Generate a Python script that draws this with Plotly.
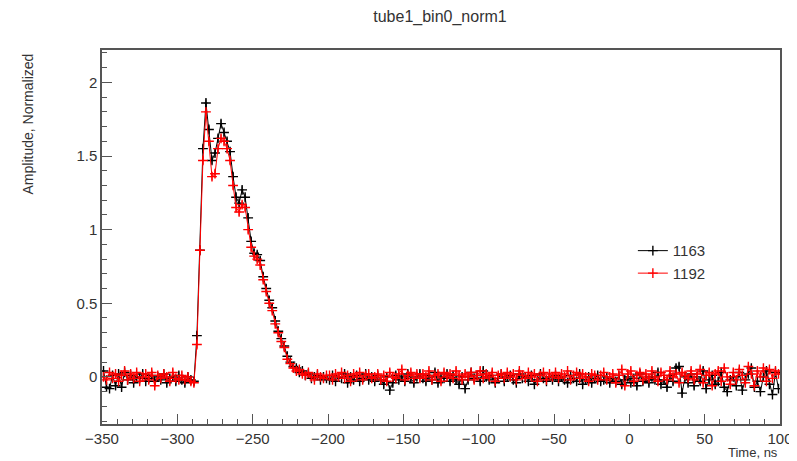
import numpy as np
import plotly.graph_objects as go

# time bins (2 ns wide), centres from -349 to 99 ns
time_ns = np.arange(-349, 100, 2)

# normalized amplitude, run 1163 (black)
amp_1163 = [
    0.04, -0.07, -0.08, 0.01, -0.06, 0.02, -0.07, 0.03, -0.02, 0.01, -0.04, 0.00, -0.01, 0.02, -0.03,
    -0.01, 0.01, -0.03, 0.00, -0.02, 0.02, -0.04, -0.01, 0.00, -0.03, 0.01, -0.02, -0.04, 0.00, -0.02,
    -0.03, 0.28, 0.86, 1.55, 1.86, 1.68, 1.47, 1.52, 1.62, 1.72, 1.66, 1.60, 1.53, 1.36, 1.22,
    1.18, 1.27, 1.22, 1.08, 0.92, 0.84, 0.83, 0.79, 0.68, 0.60, 0.52, 0.47, 0.38, 0.31, 0.26,
    0.21, 0.14, 0.10, 0.07, 0.06, 0.03, 0.04, 0.01, 0.02, -0.01, 0.00, 0.01, -0.02, 0.00, -0.01,
    -0.02, 0.01, -0.03, 0.00, -0.01, 0.02, -0.04, 0.00, -0.02, 0.01, -0.03, -0.01, 0.02, -0.02, 0.00,
    -0.03, 0.01, -0.02, -0.05, 0.00, -0.09, -0.04, 0.01, -0.02, 0.00, -0.03, 0.02, -0.01, -0.04, 0.00,
    0.02, -0.01, -0.03, 0.01, -0.02, 0.03, -0.04, 0.00, -0.01, 0.02, -0.03, 0.01, -0.02, -0.05, 0.00,
    -0.08, -0.02, 0.03, -0.01, 0.01, -0.03, 0.04, 0.00, -0.02, 0.01, -0.04, -0.01, 0.02, -0.03, 0.00,
    0.01, -0.02, -0.04, 0.02, -0.01, 0.00, -0.03, 0.01, -0.05, -0.02, 0.02, -0.01, -0.03, 0.00, -0.02,
    0.01, -0.03, 0.00, -0.02, -0.04, 0.01, -0.01, -0.03, 0.02, -0.05, -0.02, 0.00, -0.04, -0.01, 0.01,
    -0.03, -0.02, 0.00, -0.04, -0.01, -0.03, 0.01, -0.05, -0.02, 0.00, -0.04, -0.01, -0.06, 0.02, -0.03,
    -0.01, -0.04, 0.00, -0.02, 0.03, -0.05, -0.02, -0.07, 0.01, -0.03, 0.06, 0.07, -0.11, 0.00, -0.04,
    0.02, -0.06, 0.00, -0.03, 0.04, -0.08, -0.02, 0.01, -0.05, -0.03, 0.03, -0.07, -0.10, -0.02, 0.00,
    -0.06, 0.03, -0.09, -0.02, 0.02, 0.06, -0.07, -0.03, -0.10, 0.00, 0.04, -0.05, -0.12, 0.03, -0.08,
]

# normalized amplitude, run 1192 (red)
amp_1192 = [
    0.00, -0.02, 0.03, -0.01, 0.02, -0.03, 0.01, 0.04, -0.02, 0.02, -0.01, 0.03, -0.03, 0.00, 0.02,
    -0.02, 0.03, -0.06, 0.01, -0.01, 0.02, 0.00, -0.03, 0.03, -0.01, -0.02, 0.01, -0.02, 0.00, -0.03,
    -0.04, 0.22, 0.86, 1.47, 1.80, 1.60, 1.36, 1.38, 1.55, 1.62, 1.60, 1.55, 1.47, 1.30, 1.15,
    1.12, 1.17, 1.15, 1.00, 0.88, 0.82, 0.80, 0.76, 0.66, 0.58, 0.50, 0.45, 0.36, 0.30, 0.24,
    0.20, 0.12, 0.09, 0.06, 0.04, 0.05, 0.02, 0.01, 0.03, 0.00, -0.02, 0.02, 0.00, -0.01, 0.01,
    0.01, -0.02, 0.02, 0.00, 0.03, -0.01, 0.01, -0.03, 0.02, 0.00, 0.03, -0.02, 0.01, 0.02, -0.01,
    0.00, 0.02, -0.02, 0.01, -0.03, 0.03, 0.00, -0.01, 0.02, 0.05, -0.02, 0.01, 0.03, -0.01, 0.02,
    -0.01, 0.02, 0.00, 0.04, -0.02, 0.01, 0.02, -0.03, 0.03, 0.00, 0.02, -0.01, 0.04, 0.01, -0.02,
    0.02, 0.00, 0.03, -0.02, 0.01, 0.04, -0.01, 0.02, 0.00, 0.03, -0.03, 0.01, 0.02, -0.01, 0.03,
    0.00, 0.02, -0.02, 0.04, 0.01, -0.01, 0.03, 0.00, 0.02, -0.03, 0.01, 0.03, -0.02, 0.02, 0.00,
    0.03, -0.01, 0.02, 0.00, 0.04, -0.02, 0.01, 0.03, -0.01, 0.02, 0.00, -0.03, 0.02, 0.01, -0.02,
    0.01, 0.03, -0.02, 0.00, 0.02, -0.04, 0.01, 0.05, -0.06, 0.02, 0.04, -0.03, 0.01, 0.03, -0.02,
    0.02, -0.01, 0.04, 0.00, -0.03, 0.03, 0.01, -0.02, 0.04, 0.00, 0.02, -0.04, 0.03, 0.01, -0.01,
    0.04, -0.02, 0.02, 0.05, -0.04, 0.01, 0.03, -0.06, 0.02, 0.04, -0.03, 0.06, 0.00, -0.05, 0.03,
    -0.02, 0.05, 0.01, -0.04, 0.07, 0.02, -0.06, 0.04, 0.00, 0.06, -0.03, 0.05, -0.01, 0.04, 0.02,
]

runs = [("1163", amp_1163, "black"), ("1192", amp_1192, "red")]

fig = go.Figure()
for name, amp, col in runs:
    fig.add_trace(go.Scatter(
        x=time_ns, y=amp, name=name, mode="lines+markers",
        line=dict(color=col, width=1),
        marker=dict(symbol="cross-thin", size=7, line=dict(color=col, width=1.4)),
        error_x=dict(type="constant", value=1, color=col, thickness=1, width=0),
        error_y=dict(type="constant", value=0.025, color=col, thickness=1, width=0),
    ))

axis_common = dict(
    showgrid=False, zeroline=False, showline=True, mirror=True, automargin=False,
    linecolor="#555555", linewidth=1.5, ticks="inside", tickcolor="#555555",
    tickfont=dict(family="Liberation Sans, Arial", size=15, color="#333333"),
)
fig.update_xaxes(range=[-350, 100], dtick=50, ticklen=10,
                 minor=dict(dtick=10, ticks="inside", ticklen=5, tickcolor="#555555"),
                 **axis_common)
fig.update_yaxes(range=[-0.32, 2.22], dtick=0.5, ticklen=10,
                 minor=dict(dtick=0.1, ticks="inside", ticklen=5, tickcolor="#555555"),
                 **axis_common)

# the page puts the figure 8px in from the top-left, margins allow for that
fig.update_layout(
    width=797, height=461,
    margin=dict(l=94, r=25, t=42, b=45, autoexpand=False),
    paper_bgcolor="white", plot_bgcolor="white",
    font=dict(family="Liberation Sans, Arial", color="#333333"),
    title=dict(text="tube1_bin0_norm1", x=0.542, xanchor="center", y=0.982, yanchor="middle",
               font=dict(size=16)),
    legend=dict(x=0.783, y=0.507, xanchor="left", yanchor="top", bgcolor="rgba(0,0,0,0)",
                font=dict(size=15), itemwidth=30, tracegroupgap=2),
    annotations=[
        dict(text="Amplitude, Normalized", textangle=-90, xref="paper", yref="paper",
             x=-0.109, y=0.995, xanchor="center", yanchor="top", showarrow=False,
             font=dict(size=14)),
        dict(text="Time, ns", xref="paper", yref="paper", x=1.0, y=-0.075,
             xanchor="right", yanchor="middle", showarrow=False, font=dict(size=13)),
    ],
)

fig.write_html("out.html")
